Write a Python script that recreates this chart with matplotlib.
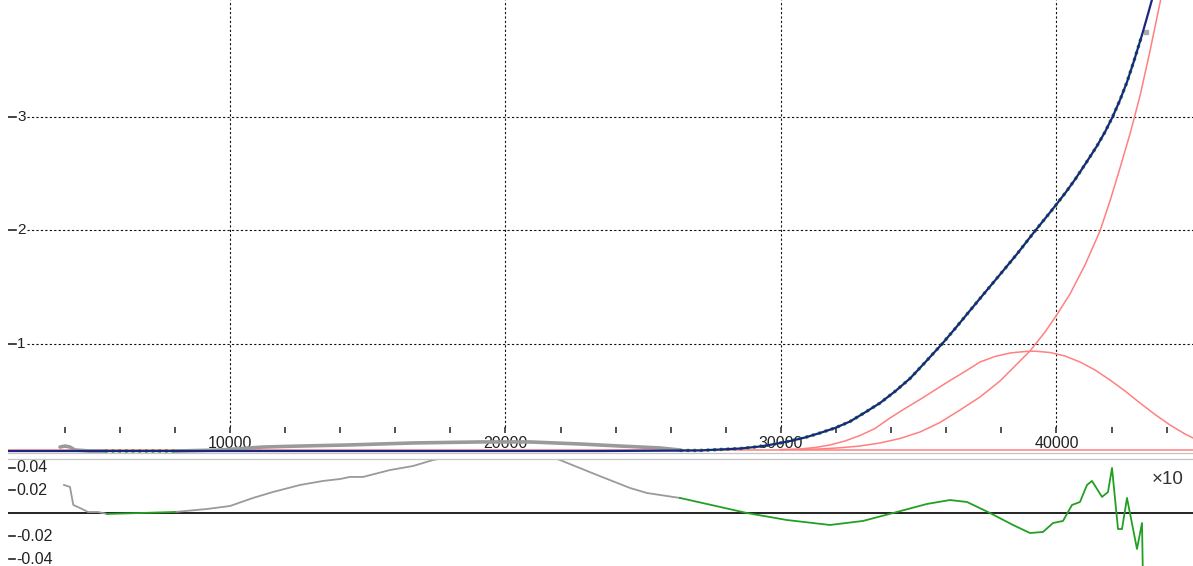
import matplotlib
matplotlib.use("Agg")
import matplotlib.pyplot as plt
from matplotlib.lines import Line2D

plt.rcParams['font.family'] = ['Liberation Sans', 'DejaVu Sans']

W, H = 1193, 566

# ---------------- data ----------------
x_major = [10000, 20000, 30000, 40000]
x_major_labels = ["10000", "20000", "30000", "40000"]
x_minor = [4000, 6000, 8000, 12000, 14000, 16000, 18000, 22000, 24000, 26000,
           28000, 32000, 34000, 36000, 38000, 42000, 44000]
y_main_ticks = [1, 2, 3]
y_main_labels = ["1", "2", "3"]
res_ticks = [0.04, 0.02, -0.02, -0.04]
res_labels = ["0.04", "0.02", "-0.02", "-0.04"]

# inactive (gray) measured data
gray_x = [3829, 4011, 4192, 4374, 4918, 5463, None,
          8004, 9637, 11198, 12541, 14247, 16643, 19075, 20889, 22704, 24156,
          25608, 26334]
gray_y = [0.092, 0.101, 0.092, 0.066, 0.057, 0.057, None,
          0.057, 0.066, 0.092, 0.101, 0.110, 0.128, 0.137, 0.137, 0.119, 0.101,
          0.084, 0.066]
# active (green) measured data
green_x = [5463, 8004, None,
           26334, 27060, 28512, 29238, 29783, 30327, 30871, 31416, 31960, 32505,
           33049, 33594, 34138, 34683, 35227, 35844, 36352, 36861, 37405, 37950,
           38567, 39220, 39619, 39982, 40345, 40672, 41071, 41470, 41761, 42051,
           42305, 42559, 42811, 43104]
green_y = [0.057, 0.057, None,
           0.062, 0.062, 0.079, 0.097, 0.119, 0.145, 0.176, 0.216, 0.260, 0.317,
           0.397, 0.480, 0.582, 0.696, 0.837, 1.000, 1.145, 1.295, 1.454, 1.612,
           1.793, 1.996, 2.115, 2.225, 2.339, 2.449, 2.595, 2.745, 2.868, 3.009,
           3.150, 3.308, 3.493, 3.723]
excluded_x = [43267]
excluded_y = [3.749]

# fitted model (sum)
model_x = [1942, 23430, 27060, 28512, 29238, 29783, 30327, 30871, 31416, 31960,
           32505, 33049, 33594, 34138, 34683, 35227, 35844, 36352, 36861, 37405,
           37950, 38567, 39220, 39619, 39982, 40345, 40672, 41071, 41470, 41761,
           42051, 42305, 42559, 42811, 43104, 43322, 43503]
model_y = [0.057, 0.057, 0.062, 0.079, 0.097, 0.119, 0.145, 0.176, 0.216, 0.260,
           0.317, 0.397, 0.480, 0.582, 0.696, 0.837, 1.000, 1.145, 1.295, 1.454,
           1.612, 1.793, 1.996, 2.115, 2.225, 2.339, 2.449, 2.595, 2.745, 2.868,
           3.009, 3.150, 3.308, 3.493, 3.723, 3.908, 4.066]

# components
const_level = 0.066
peak_x = [29964, 30690, 31234, 31779, 32323, 32868, 33412, 33957, 34501, 35046,
          35590, 36135, 36679, 37224, 37768, 38313, 38857, 39220, 39764, 40309,
          40853, 41398, 41942, 42487, 43031, 43576, 44120, 44665, 44955]
peak_y = [0.0705, 0.0749, 0.0881, 0.1101, 0.1454, 0.1938, 0.2555, 0.3480, 0.4317,
          0.5110, 0.5947, 0.6784, 0.7577, 0.8414, 0.8899, 0.9207, 0.9339, 0.9366,
          0.9251, 0.8943, 0.8414, 0.7709, 0.6828, 0.5859, 0.4802, 0.3789, 0.2863,
          0.2070, 0.1718]
rise_x = [30690, 31416, 32142, 32868, 33594, 34320, 35046, 35772, 36498, 37224,
          37950, 38494, 39038, 39583, 39982, 40490, 41035, 41579, 41942, 42305,
          42668, 43031, 43394, 43757, 43866]
rise_y = [0.0705, 0.0749, 0.0855, 0.1013, 0.1278, 0.1674, 0.2247, 0.3084, 0.4185,
          0.5330, 0.6740, 0.8062, 0.9383, 1.1057, 1.2467, 1.4405, 1.6960, 1.9956,
          2.2599, 2.5507, 2.8502, 3.1850, 3.5815, 4.0044, 4.1366]

# residuals (x10)
res_x = [3975, 4192, 4312, 4555, 4846, 5209, 5535, 6733, 8004, 9165, 10000, 10835,
         11561, 12541, 13376, 13993, 14356, 14828, 15808, 16643, 17369, 18712,
         19982, 21253, 21978, 23321, 24519, 25136, 26334, 27786, 28766, 30218,
         31779, 32977, 34066, 35300, 36135, 36752, 37587, 38421, 39038, 39510,
         39873, 40236, 40563, 40853, 41107, 41289, 41652, 41870, 42015, 42233,
         42378, 42559, 42922, 43104, 43140]
res_y = [0.0248, 0.0231, 0.0074, 0.0048, 0.0013, 0.0013, -0.0004, 0.0004, 0.0013,
         0.0039, 0.0065, 0.0135, 0.0187, 0.0248, 0.0283, 0.0300, 0.0318, 0.0318,
         0.0378, 0.0413, 0.0465, 0.0535, 0.0561, 0.0535, 0.0465, 0.0335, 0.0222,
         0.0178, 0.0135, 0.0057, 0.0004, -0.0057, -0.0100, -0.0065, 0.0004, 0.0083,
         0.0117, 0.0100, 0.0004, -0.0100, -0.0170, -0.0161, -0.0083, -0.0065,
         0.0074, 0.0100, 0.0248, 0.0283, 0.0144, 0.0187, 0.0396, -0.0135, -0.0135,
         0.0135, -0.0309, -0.0083, -0.0600]
res_gray_spans = [(0, 6), (8, 28)]
res_green_spans = [(6, 8), (28, len(res_x) - 1)]

# ---------------- styles ----------------
C_BLUE = '#1b2680'
C_PINK = '#ff8080'
C_GREEN = '#23a023'
C_GRAY = '#9a9a9a'
C_TXT = '#222222'
DOT = (0, (2, 2))

fig = plt.figure(figsize=(W / 100, H / 100), dpi=100)

XL = (1942, 44955)
ax = fig.add_axes([8 / W, 113 / H, 1185 / W, 453 / H])
ax.set_xlim(*XL)
ax.set_ylim(0.0396, 4.0308)
ax.axis('off')

xt = ax.get_xaxis_transform()
yt = ax.get_yaxis_transform()

# grid
for xv in x_major:
    ax.plot([xv, xv], [0.0574, 1.0], transform=xt, color='#111111', lw=0.8,
            linestyle=DOT, zorder=1)
for yv in y_main_ticks:
    ax.plot([19 / 1185, 1.0], [yv, yv], transform=yt, color='#111111', lw=0.8,
            linestyle=DOT, zorder=1)

# x ticks & labels
ax.vlines(x_minor + x_major, 0.0442, 0.0574, transform=xt, color=C_TXT, lw=1.1,
          zorder=1)
for xv, lab in zip(x_major, x_major_labels):
    ax.text(xv, 0.021, lab, transform=xt, ha='center', va='center',
            fontsize=11.5, color=C_TXT, zorder=1)

# y ticks & labels (main)
for yv, lab in zip(y_main_ticks, y_main_labels):
    ax.plot([0, 8 / 1185], [yv, yv], transform=yt, color=C_TXT, lw=1.2, zorder=1)
    ax.text(9 / 1185, yv, lab, transform=yt, ha='left', va='center',
            fontsize=11, color=C_TXT, zorder=1)

# components
ax.axhline(const_level, color=C_PINK, lw=1.1, zorder=2)
ax.plot(peak_x, peak_y, color=C_PINK, lw=1.1, zorder=2)
ax.plot(rise_x, rise_y, color=C_PINK, lw=1.1, zorder=2)

# data
ax.plot(gray_x, gray_y, color=C_GRAY, lw=2.6, solid_capstyle='round', zorder=3)
ax.plot(green_x, green_y, color=C_GREEN, lw=2.4, linestyle=(0, (0.8, 1.2)),
        zorder=3)
ax.plot(excluded_x, excluded_y, 's', color='#aaaaaa', ms=2.2, zorder=3)

# model
ax.plot(model_x, model_y, color=C_BLUE, lw=1.6, zorder=4)

# ---------------- residual panel ----------------
rax = fig.add_axes([8 / W, 0, 1185 / W, 107 / H])
rax.set_xlim(*XL)
rax.set_ylim(-0.0457, 0.0474)
rax.axis('off')
ryt = rax.get_yaxis_transform()

rax.axhline(0, color='#111111', lw=1.3, zorder=2)
for yv, lab in zip(res_ticks, res_labels):
    rax.plot([1 / 1185, 7 / 1185], [yv, yv], transform=ryt, color=C_TXT, lw=1.2)
    rax.text(8 / 1185, yv, lab, transform=ryt, ha='left', va='center',
             fontsize=11.5, color=C_TXT)

for a, b in res_gray_spans:
    rax.plot(res_x[a:b + 1], res_y[a:b + 1], color=C_GRAY, lw=1.3, zorder=3)
for a, b in res_green_spans:
    rax.plot(res_x[a:b + 1], res_y[a:b + 1], color=C_GREEN, lw=1.3, zorder=3)

rax.text((1168 - 8) / 1185, 0.813, '\u00d710', transform=rax.transAxes,
         ha='center', va='center', fontsize=13.5, color='#333333')

# separator lines
for py in (452.5, 459):
    fig.add_artist(Line2D([8 / W, 1.0], [1 - py / H, 1 - py / H], color='#c4c4c4',
                          lw=0.9))

fig.savefig('out.png', dpi=100)
